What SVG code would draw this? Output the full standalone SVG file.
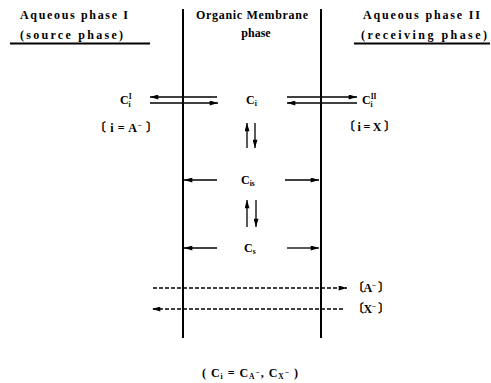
<svg xmlns="http://www.w3.org/2000/svg" width="491" height="383" viewBox="0 0 491 383">
<style>
.hdr{font-family:"Liberation Serif","DejaVu Serif",serif;font-weight:bold;font-size:12px;fill:#000}
.mid{font-family:"Liberation Serif","DejaVu Serif",serif;font-weight:bold;font-size:12px;fill:#000}
.lbl{font-family:"Liberation Serif","Noto Sans CJK SC",serif;font-weight:bold;font-size:12px;fill:#000}
.sm{font-size:7.5px}
.ln{stroke:#000;stroke-width:1.3;fill:none}
.wall{stroke:#000;stroke-width:2;fill:none}
.ul{stroke:#000;stroke-width:1.8;fill:none}
.dash{stroke-dasharray:4 2}
</style>
<defs>
<marker id="ah" viewBox="0 0 10 6" refX="10" refY="3" markerWidth="9" markerHeight="5" markerUnits="userSpaceOnUse" orient="auto-start-reverse"><path d="M0,0 L10,3 L0,6 z" fill="#000"/></marker>
</defs>
<g id="phase-source">
<text class="hdr" x="20" y="19" textLength="108" lengthAdjust="spacing">Aqueous phase I</text>
<text class="hdr" x="20" y="39" textLength="103" lengthAdjust="spacing">(source phase)</text>
<line class="ul" x1="10" y1="43.5" x2="150" y2="43.5"/>
</g>
<g id="phase-membrane">
<text class="mid" x="252" y="19" text-anchor="middle" textLength="112" lengthAdjust="spacing">Organic Membrane</text>
<text class="mid" x="256" y="37" text-anchor="middle">phase</text>
<line class="wall" x1="183" y1="9" x2="183" y2="338"/>
<line class="wall" x1="321" y1="9" x2="321" y2="338"/>
</g>
<g id="phase-receiving">
<text class="hdr" x="363" y="19" textLength="117" lengthAdjust="spacing">Aqueous phase II</text>
<text class="hdr" x="361" y="39" textLength="126" lengthAdjust="spacing">(receiving phase)</text>
<line class="ul" x1="354" y1="43.5" x2="490" y2="43.5"/>
</g>
<g id="node-CiI"><text class="lbl" x="120" y="104">C<tspan class="sm" dy="-5">I</tspan><tspan class="sm" dx="-3" dy="8">i</tspan></text></g>
<g id="node-Ci"><text class="lbl" x="246" y="104">C<tspan class="sm" dy="2">i</tspan></text></g>
<g id="node-CiII"><text class="lbl" x="362" y="104">C<tspan class="sm" dy="-5">II</tspan><tspan class="sm" dx="-6" dy="8">i</tspan></text></g>
<g id="label-iA"><text class="lbl" x="94" y="132" textLength="64" lengthAdjust="spacing">〔 i = A<tspan class="sm" dy="-4">−</tspan><tspan dy="4"> 〕</tspan></text></g>
<g id="label-iX"><text class="lbl" x="343" y="131" textLength="53" lengthAdjust="spacing">〔 i = X  〕</text></g>
<g id="node-Cis"><text class="lbl" x="241" y="184">C<tspan class="sm" dy="2">is</tspan></text></g>
<g id="node-Cs"><text class="lbl" x="244" y="252">C<tspan class="sm" dy="2">s</tspan></text></g>
<g id="label-A"><text class="lbl" x="352" y="292" textLength="38" lengthAdjust="spacing">〔A<tspan class="sm" dy="-4">−</tspan><tspan dy="4"> 〕</tspan></text></g>
<g id="label-X"><text class="lbl" x="352" y="313" textLength="38" lengthAdjust="spacing">〔X<tspan class="sm" dy="-4">−</tspan><tspan dy="4"> 〕</tspan></text></g>
<g id="label-formula"><text class="lbl" x="202" y="377" textLength="96" lengthAdjust="spacing">( C<tspan class="sm" dy="2">i</tspan><tspan dy="-2"> = C</tspan><tspan class="sm" dy="2">A</tspan><tspan class="sm" dy="-4">−</tspan><tspan dy="2">, C</tspan><tspan class="sm" dy="2">X</tspan><tspan class="sm" dy="-4">−</tspan><tspan dy="2">  )</tspan></text></g>
<g id="connectors">
<line class="ln" x1="217" y1="97" x2="150" y2="97" marker-end="url(#ah)"/>
<line class="ln" x1="150" y1="103" x2="218" y2="103" marker-end="url(#ah)"/>
<line class="ln" x1="287" y1="97" x2="357" y2="97" marker-end="url(#ah)"/>
<line class="ln" x1="357" y1="103" x2="287" y2="103" marker-end="url(#ah)"/>
<line class="ln" x1="247" y1="148" x2="247" y2="123" marker-end="url(#ah)"/>
<line class="ln" x1="255" y1="123" x2="255" y2="148" marker-end="url(#ah)"/>
<line class="ln" x1="217" y1="180" x2="184" y2="180" marker-end="url(#ah)"/>
<line class="ln" x1="285" y1="180" x2="319" y2="180" marker-end="url(#ah)"/>
<line class="ln" x1="247" y1="227" x2="247" y2="200" marker-end="url(#ah)"/>
<line class="ln" x1="256" y1="200" x2="256" y2="227" marker-end="url(#ah)"/>
<line class="ln" x1="217" y1="248" x2="184" y2="248" marker-end="url(#ah)"/>
<line class="ln" x1="287" y1="248" x2="319" y2="248" marker-end="url(#ah)"/>
<line class="ln dash" x1="153" y1="288" x2="347" y2="288" marker-end="url(#ah)"/>
<line class="ln dash" x1="343" y1="309" x2="152" y2="309" marker-end="url(#ah)"/>
</g>
</svg>
